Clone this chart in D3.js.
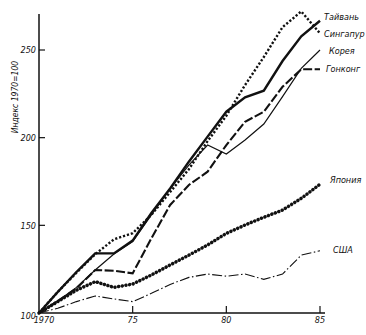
<!DOCTYPE html>
<html>
<head>
<meta charset="utf-8">
<script src="https://cdn.jsdelivr.net/npm/d3@7"></script>
<style>
  body { margin: 0; background: #fff; }
  text { font-family: 'DejaVu Sans Condensed', 'DejaVu Sans', sans-serif; font-style: italic; fill: #111; }
</style>
</head>
<body>
<svg id="chart" width="366" height="335"></svg>
<script>
// Real GDP index, 1970 = 100
const years = [1970, 1971, 1972, 1973, 1974, 1975, 1976, 1977, 1978, 1979, 1980, 1981, 1982, 1983, 1984, 1985];
const taiwan    = [100, 112, 123.4, 134, 134, 141.3, 157, 171, 186.3, 200.6, 214.8, 223, 226.8, 243.7, 257.8, 266.7];
const singapore = [100, 112, 123, 133.5, 142, 145.5, 156, 169, 182, 198, 212.5, 230, 246, 263, 272, 259.5];
const korea     = [100, 106.8, 114.6, 124.5, 133.6, 140.7, 156, 171, 184.4, 195.8, 190.7, 198.7, 207.8, 223.4, 239.5, 250];
const hongkong  = [100, 106.8, 114, 124.5, 124.1, 122.6, 142.6, 161.6, 173, 180.6, 195.8, 209.1, 214.8, 229, 239, 239];
const japan     = [100, 106.5, 113, 117.9, 114.6, 116.5, 121.7, 127.4, 133, 138.8, 145.4, 150.2, 154.6, 158.7, 165.4, 173.4];
const usa       = [100, 102.7, 106.5, 109.7, 108, 106.5, 111.2, 116.3, 120.3, 122.2, 121, 122.2, 119.2, 122.2, 133, 135.5];

const seriesNames = ["Тайвань", "Сингапур", "Корея", "Гонконг", "Япония", "США"];
const seriesValues = [taiwan, singapore, korea, hongkong, japan, usa];

const xTickValues = [1970, 1975, 1980, 1985];
const xTickLabels = ["1970", "75", "80", "85"];
const yTickValues = [100, 150, 200, 250];
const yAxisTitle = "Индекс 1970=100";

// line look for each series
const styles = [
  { width: 2.4, dash: null, cap: "butt" },            // Тайвань
  { width: 2.4, dash: "2.2,1.9", cap: "butt" },       // Сингапур
  { width: 1.2, dash: null, cap: "butt" },            // Корея
  { width: 2.1, dash: "9,2.5", cap: "butt" },         // Гонконг
  { width: 3.5, dash: "0.1,3.6", cap: "round" },      // Япония
  { width: 1.1, dash: "10,2.5,1.5,2.5", cap: "butt" } // США
];
// label placement next to the line ends
const labelPos = [
  { dx: 4, dy: -4 }, { dx: 4, dy: 1 }, { dx: 9, dy: 1 },
  { dx: 6, dy: 0 }, { dx: 10, dy: -4 }, { dx: 13, dy: -1 }
];

const svg = d3.select("#chart");
const x = d3.scaleLinear().domain([1970, 1985]).range([39, 320]);
const y = d3.scaleLinear().domain([100, 250]).range([313, 50]);

const ink = "#111";

// axes lines
svg.append("line").attr("x1", 39).attr("x2", 39).attr("y1", 14).attr("y2", y(100))
  .attr("stroke", ink).attr("stroke-width", 1.5);
svg.append("line").attr("x1", 39).attr("x2", 325).attr("y1", y(100)).attr("y2", y(100))
  .attr("stroke", ink).attr("stroke-width", 1.5);

// y ticks (inward) and labels
const yTicks = svg.append("g");
yTickValues.forEach(v => {
  if (v !== 100) {
    yTicks.append("line").attr("x1", 39).attr("x2", 45).attr("y1", y(v)).attr("y2", y(v))
      .attr("stroke", ink).attr("stroke-width", 1.2);
  }
  yTicks.append("text").attr("x", 36).attr("y", y(v) + (v === 100 ? 6 : 3.2))
    .attr("text-anchor", "end").attr("font-size", 9).text(v);
});

// x ticks (upward) and labels
const xTicks = svg.append("g");
xTickValues.forEach((v, i) => {
  if (v !== 1970) {
    xTicks.append("line").attr("x1", x(v)).attr("x2", x(v)).attr("y1", y(100)).attr("y2", y(100) - 7)
      .attr("stroke", ink).attr("stroke-width", 1.2);
  }
  xTicks.append("text").attr("x", x(v) + (v === 1970 ? 5 : 0)).attr("y", 323)
    .attr("text-anchor", "middle").attr("font-size", 9).text(xTickLabels[i]);
});

// y axis title
svg.append("text").attr("transform", "translate(18,97) rotate(-90)")
  .attr("text-anchor", "middle").attr("font-size", 8.5).text(yAxisTitle);

// series lines with end labels
const line = d3.line().x((d, i) => x(years[i])).y(d => y(d));
seriesValues.forEach((vals, k) => {
  const st = styles[k];
  svg.append("path").datum(vals).attr("d", line)
    .attr("fill", "none").attr("stroke", ink)
    .attr("stroke-width", st.width)
    .attr("stroke-linejoin", "miter")
    .attr("stroke-linecap", st.cap)
    .attr("stroke-dasharray", st.dash);
  const last = vals[vals.length - 1];
  svg.append("text")
    .attr("x", x(years[years.length - 1]) + labelPos[k].dx)
    .attr("y", y(last) + labelPos[k].dy + 3)
    .attr("font-size", 9).text(seriesNames[k]);
});
</script>
</body>
</html>
